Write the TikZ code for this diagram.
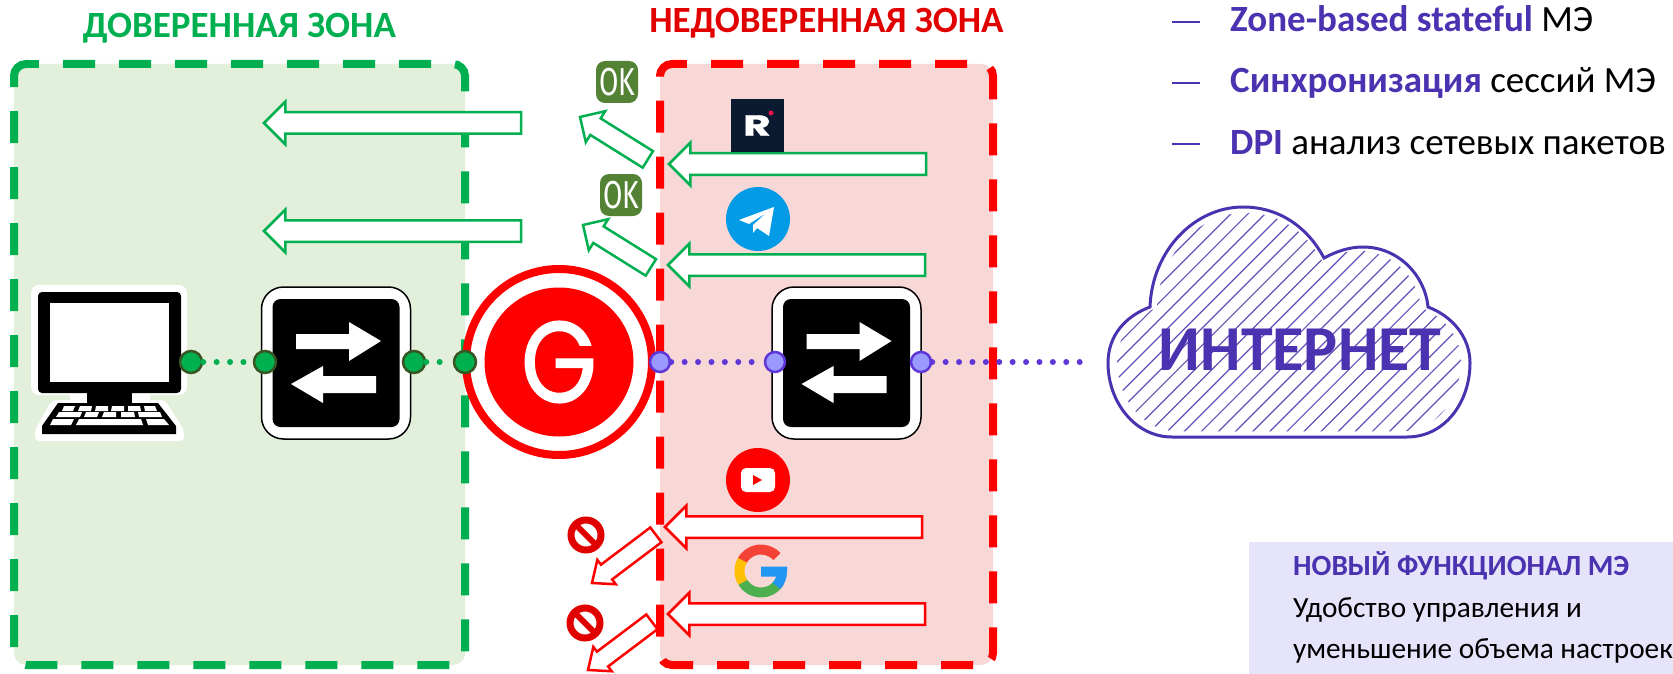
\documentclass[tikz,border=0pt]{standalone}
\usepackage{fontspec}
\usepackage{graphicx}
\setmainfont{Carlito}
\newfontfamily\logofont[FakeBold=1.2]{Poppins}
\newfontfamily\okfont{Fira Sans}
\usetikzlibrary{shapes.arrows}

\definecolor{zonegreen}{HTML}{00B050}
\definecolor{zonered}{HTML}{FF0000}
\definecolor{titlered}{HTML}{E00000}
\definecolor{fillgreen}{HTML}{E2EFDA}
\definecolor{fillred}{HTML}{F8D7D7}
\definecolor{violettext}{HTML}{4B32B0}
\definecolor{violetdot}{HTML}{5F37D6}
\definecolor{violetfill}{HTML}{9999FF}
\definecolor{panelfill}{HTML}{E6E4FB}
\definecolor{darkring}{HTML}{375623}
\definecolor{okfill}{HTML}{548235}
\definecolor{stopred}{HTML}{E00000}
\definecolor{rutubebg}{HTML}{0B1A30}
\definecolor{rutubedot}{HTML}{E8174A}
\definecolor{telegramblue}{HTML}{039BE5}
\definecolor{googlered}{HTML}{F44336}
\definecolor{googleyellow}{HTML}{FFC107}
\definecolor{googlegreen}{HTML}{4CAF50}
\definecolor{googleblue}{HTML}{2196F3}

\tikzset{
    zonebox/.style={line width=8pt,dash pattern=on 32pt off 24pt},
    greenport/.style={circle,draw=darkring,fill=zonegreen,line width=2.5pt,minimum size=22pt,inner sep=0pt},
    violetport/.style={circle,draw=violetdot,fill=violetfill,line width=2.5pt,minimum size=20pt,inner sep=0pt},
    greenlink/.style={zonegreen,line width=6pt,line cap=round,dash pattern=on 0pt off 13.4pt},
    violetlink/.style={violetdot,line width=6pt,line cap=round,dash pattern=on 0pt off 13.4pt},
    blockarrow/.style={single arrow,fill=white,line width=2.5pt,inner xsep=0pt,inner ysep=9.5pt,outer sep=0pt,anchor=tip,
        minimum height=#1,minimum width=0pt,single arrow head extend=10.5pt,single arrow tip angle=90},
    slantarrow/.style={blockarrow=80pt,inner ysep=8.5pt,single arrow head extend=8.5pt},
    stoparrow/.style={slantarrow,draw=zonered,rotate=217,inner ysep=8pt,single arrow head extend=6pt,single arrow tip angle=80},
    okbadge/.style={fill=okfill,rounded corners=9pt,minimum size=42pt,inner sep=0pt,text=white,
        font=\okfont\fontsize{39}{39}\selectfont},
    nosign/.style={circle,draw=stopred,fill=white,line width=7pt,minimum size=30pt,inner sep=0pt,
        path picture={\draw[stopred,line width=6pt] (path picture bounding box.north west) -- (path picture bounding box.south east);}},
    listtext/.style={anchor=base west,inner sep=0pt,font=\fontsize{37}{37}\selectfont},
    paneltext/.style={anchor=base west,inner sep=0pt,font=\fontsize{29.3}{29.3}\selectfont},
    zonetitle/.style={anchor=base,inner sep=0pt,font=\bfseries\fontsize{37}{37}\selectfont},
    listdash/.style={violettext,line width=2pt},
}

% switch icon, #1 is the name and #2 the centre
\newcommand{\switchicon}[2]{
    \node[draw,fill=white,line width=1.5pt,rounded corners=22pt,minimum width=149pt,minimum height=152pt,inner sep=0pt] (#1) at (#2) {};
    \node[fill=black,rounded corners=8pt,minimum width=127pt,minimum height=128pt,inner sep=0pt] (#1in) at (#2) {};
    \fill[white,shift={(#2)}] (-40,-29) -- (13,-29) -- (13,-41) -- (45,-22) -- (13,-2) -- (13,-14) -- (-40,-14) -- cycle;
    \fill[white,shift={(#2)}] (40,13) -- (-13,13) -- (-13,3) -- (-45,21) -- (-13,40) -- (-13,30) -- (40,30) -- cycle;
}
\newcommand{\cloudpath}{(1172,437) .. controls (1135,437) and (1108,402) .. (1108,363) .. controls (1108,335) and (1126,316) .. (1150,307) .. controls (1152,250) and (1195,207) .. (1243,207) .. controls (1280,207) and (1308,228) .. (1324,258) .. controls (1337,251) and (1350,247) .. (1363,247) .. controls (1398,247) and (1425,275) .. (1428,307) .. controls (1452,316) and (1470,337) .. (1470,363) .. controls (1470,402) and (1445,437) .. (1407,437) -- cycle}

\begin{document}
\begin{tikzpicture}[x=1pt,y=-1pt]
    \useasboundingbox (0,0) rectangle (1673,674);

    % zones
    \fill[fillgreen,rounded corners=12pt] (14,64) rectangle (465,665);
    \fill[fillred,rounded corners=12pt] (660,64) rectangle (993,665);
    \draw[zonebox,zonegreen] (63,64) -- (453,64) arc[start angle=90,end angle=0,radius=12pt] -- (465,653) arc[start angle=0,end angle=-90,radius=12pt] -- (26,665) arc[start angle=270,end angle=180,radius=12pt] -- (14,76) arc[start angle=180,end angle=90,radius=12pt] -- (39,64);
    \draw[zonegreen,line width=8pt] (26,64) -- (39,64);
    \draw[zonebox,zonered] (711,64) -- (981,64) arc[start angle=90,end angle=0,radius=12pt] -- (993,653) arc[start angle=0,end angle=-90,radius=12pt];
    \draw[zonebox,zonered] (973,665) -- (672,665) arc[start angle=270,end angle=180,radius=12pt] -- (660,76) arc[start angle=180,end angle=90,radius=12pt] -- (687,64);
    \draw[zonered,line width=8pt] (672,64) -- (687,64);
    \node[zonetitle,text=zonegreen] (trusted) at (239.5,38) {ДОВЕРЕННАЯ ЗОНА};
    \node[zonetitle,text=titlered] (untrusted) at (826.5,33) {НЕДОВЕРЕННАЯ ЗОНА};

    % computer
    \fill[white,rounded corners=8pt] (31,285) rectangle (187,395);
    \fill[white] (70,395) rectangle (150,405);
    \fill[white,rounded corners=4pt] (52,400) -- (165,400) -- (184,430) -- (184,441) -- (35,441) -- (35,430) -- cycle;
    \fill[black,rounded corners=4pt] (38,292) rectangle (181,393);
    \fill[white] (50,303) rectangle (169,382);
    \fill[black] (87,393) rectangle (132,405);
    \fill[black] (58,403) -- (158,403) -- (176,426) -- (176,434) -- (42,434) -- (42,426) -- cycle;
    \fill[white] (64,406) -- (75,406) -- (73,411) -- (62,411) -- cycle;
    \fill[white] (80,406) -- (92,406) -- (91,411) -- (78,411) -- cycle;
    \fill[white] (96,406) -- (108,406) -- (108,411) -- (95,411) -- cycle;
    \fill[white] (112,406) -- (124,406) -- (124,411) -- (111,411) -- cycle;
    \fill[white] (128,406) -- (140,406) -- (141,411) -- (128,411) -- cycle;
    \fill[white] (144,406) -- (155,406) -- (157,411) -- (145,411) -- cycle;
    \fill[white] (59,412) -- (82,412) -- (80,417) -- (56,417) -- cycle;
    \fill[white] (86,412) -- (99,412) -- (97,417) -- (84,417) -- cycle;
    \fill[white] (104,412) -- (116,412) -- (116,417) -- (102,417) -- cycle;
    \fill[white] (121,412) -- (134,412) -- (135,417) -- (121,417) -- cycle;
    \fill[white] (138,412) -- (160,412) -- (162,417) -- (139,417) -- cycle;
    \fill[white] (53,419) -- (74,419) -- (71,425) -- (50,425) -- cycle;
    \fill[white] (79,419) -- (141,419) -- (143,425) -- (76,425) -- cycle;
    \fill[white] (146,419) -- (164,419) -- (169,425) -- (148,425) -- cycle;

    % switches
    \switchicon{switchin}{336,363}
    \switchicon{switchout}{846.5,363}

    % gateway
    \node[circle,draw=zonered,fill=white,line width=8pt,minimum size=186pt,inner sep=0pt] (gateway) at (559,362) {};
    \node[circle,fill=zonered,minimum size=149pt,inner sep=0pt,text=white,font=\logofont\fontsize{115}{115}\selectfont] (gatewayin) at (559,362) {\raisebox{-2.5pt}{\scalebox{.85}[1]{G}}};

    % ports and links
    \coordinate (cloudend) at (1090,362);
    \node[greenport] (pca) at (191,362) {};
    \node[greenport] (swa) at (265,362) {};
    \node[greenport] (swb) at (414,362) {};
    \node[greenport] (gwa) at (465,362) {};
    \node[violetport] (gwb) at (660,362) {};
    \node[violetport] (swc) at (775,362) {};
    \node[violetport] (swd) at (921,362) {};
    \draw[greenlink] (pca) -- (swa);
    \draw[greenlink] (swb) -- (gwa);
    \draw[violetlink] (gwb) -- (swc);
    \draw[violetlink] (swd) -- (cloudend);

    % allowed traffic
    \node[blockarrow=257pt,draw=zonegreen,rotate=180] (arrowtrusta) at (264,123) {};
    \node[blockarrow=257pt,draw=zonegreen,rotate=180] (arrowtrustb) at (264,231) {};
    \node[blockarrow=257pt,draw=zonegreen,rotate=180] (arrowrutube) at (669,164) {};
    \node[blockarrow=257pt,draw=zonegreen,rotate=180] (arrowtelegram) at (668,265) {};
    \node[slantarrow,draw=zonegreen,rotate=148] (arrowoka) at (580,117) {};
    \node[slantarrow,draw=zonegreen,rotate=148] (arrowokb) at (583,225) {};
    \node[okbadge] (oka) at (617,82) {\scalebox{.72}[1]{OK}};
    \node[okbadge] (okb) at (621,195) {\scalebox{.72}[1]{OK}};

    % blocked traffic
    \node[blockarrow=257pt,draw=zonered,rotate=180] (arrowyoutube) at (665,527) {};
    \node[blockarrow=257pt,draw=zonered,rotate=180] (arrowgoogle) at (668,614) {};
    \node[stoparrow] (arrowstopa) at (592,583) {};
    \node[stoparrow] (arrowstopb) at (588,670) {};
    \node[nosign] (stopa) at (586,535) {};
    \node[nosign] (stopb) at (585,623) {};

    % service logos
    \node[fill=rutubebg,minimum size=53pt,inner sep=0pt,text=white,font=\logofont\bfseries\fontsize{29}{29}\selectfont] (rutube) at (757,125.5) {\scalebox{1.45}[1]{R}};
    \fill[rutubedot] (771,113) circle[radius=2.5];
    \node[circle,fill=telegramblue,minimum size=64pt,inner sep=0pt] (telegram) at (758,219) {};
    \fill[white] (739,220) -- (774,207) -- (769,236) -- (757,228) -- (753,233) -- (753,225) -- (766,213) -- (749,224) -- cycle;
    \node[circle,fill=zonered,minimum size=64pt,inner sep=0pt] (youtube) at (758,480) {};
    \node[fill=white,rounded corners=5pt,minimum width=34pt,minimum height=24pt,inner sep=0pt] (youtubein) at (758,480) {};
    \fill[zonered] (753,475) -- (762,480) -- (753,485) -- cycle;
    \draw[googlegreen,line width=10pt] (761,571) ++(-30:21.5pt) arc[start angle=-30,end angle=-150,radius=21.5pt];
    \draw[googlered,line width=10pt] (761,571) ++(42:21.5pt) arc[start angle=42,end angle=152,radius=21.5pt];
    \draw[googleyellow,line width=10pt] (761,571) ++(150:21.5pt) arc[start angle=150,end angle=212,radius=21.5pt];
    \draw[googleblue,line width=10pt] (761,571.5) -- (782,571.5) arc[start angle=0,end angle=-42,radius=21.5pt];

    % internet
    \fill[white] \cloudpath;
    \begin{scope}[shift={(1289,322)},scale=.95,shift={(-1289,-322)}]
        \clip \cloudpath;
        \foreach \hatchx in {860,878,...,1480} {
            \draw[violettext!85!white,line width=1.2pt] (\hatchx,450) -- (\hatchx+260,190);
        }
    \end{scope}
    \draw[violettext,line width=3pt] \cloudpath;
    \node[inner sep=0pt,text=violettext,font=\bfseries\fontsize{64}{64}\selectfont] (internet) at (1300,350) {ИНТЕРНЕТ};

    % feature list
    \draw[listdash] (1172,22) -- (1200,22);
    \draw[listdash] (1172,83) -- (1200,83);
    \draw[listdash] (1172,144) -- (1200,144);
    \node[listtext] (lista) at (1230,32) {\textcolor{violettext}{\bfseries Zone-based stateful} МЭ};
    \node[listtext] (listb) at (1230,93) {\textcolor{violettext}{\bfseries Синхронизация} сессий МЭ};
    \node[listtext] (listc) at (1230,154) {\textcolor{violettext}{\bfseries DPI} анализ сетевых пакетов};

    % panel
    \fill[panelfill] (1249,542) rectangle (1673,674);
    \node[paneltext,text=violettext,font=\bfseries\fontsize{29.3}{29.3}\selectfont] (panelhead) at (1293,575) {НОВЫЙ ФУНКЦИОНАЛ МЭ};
    \node[paneltext] (panela) at (1293,617) {Удобство управления и};
    \node[paneltext] (panelb) at (1293,658) {уменьшение объема настроек};
\end{tikzpicture}
\end{document}
